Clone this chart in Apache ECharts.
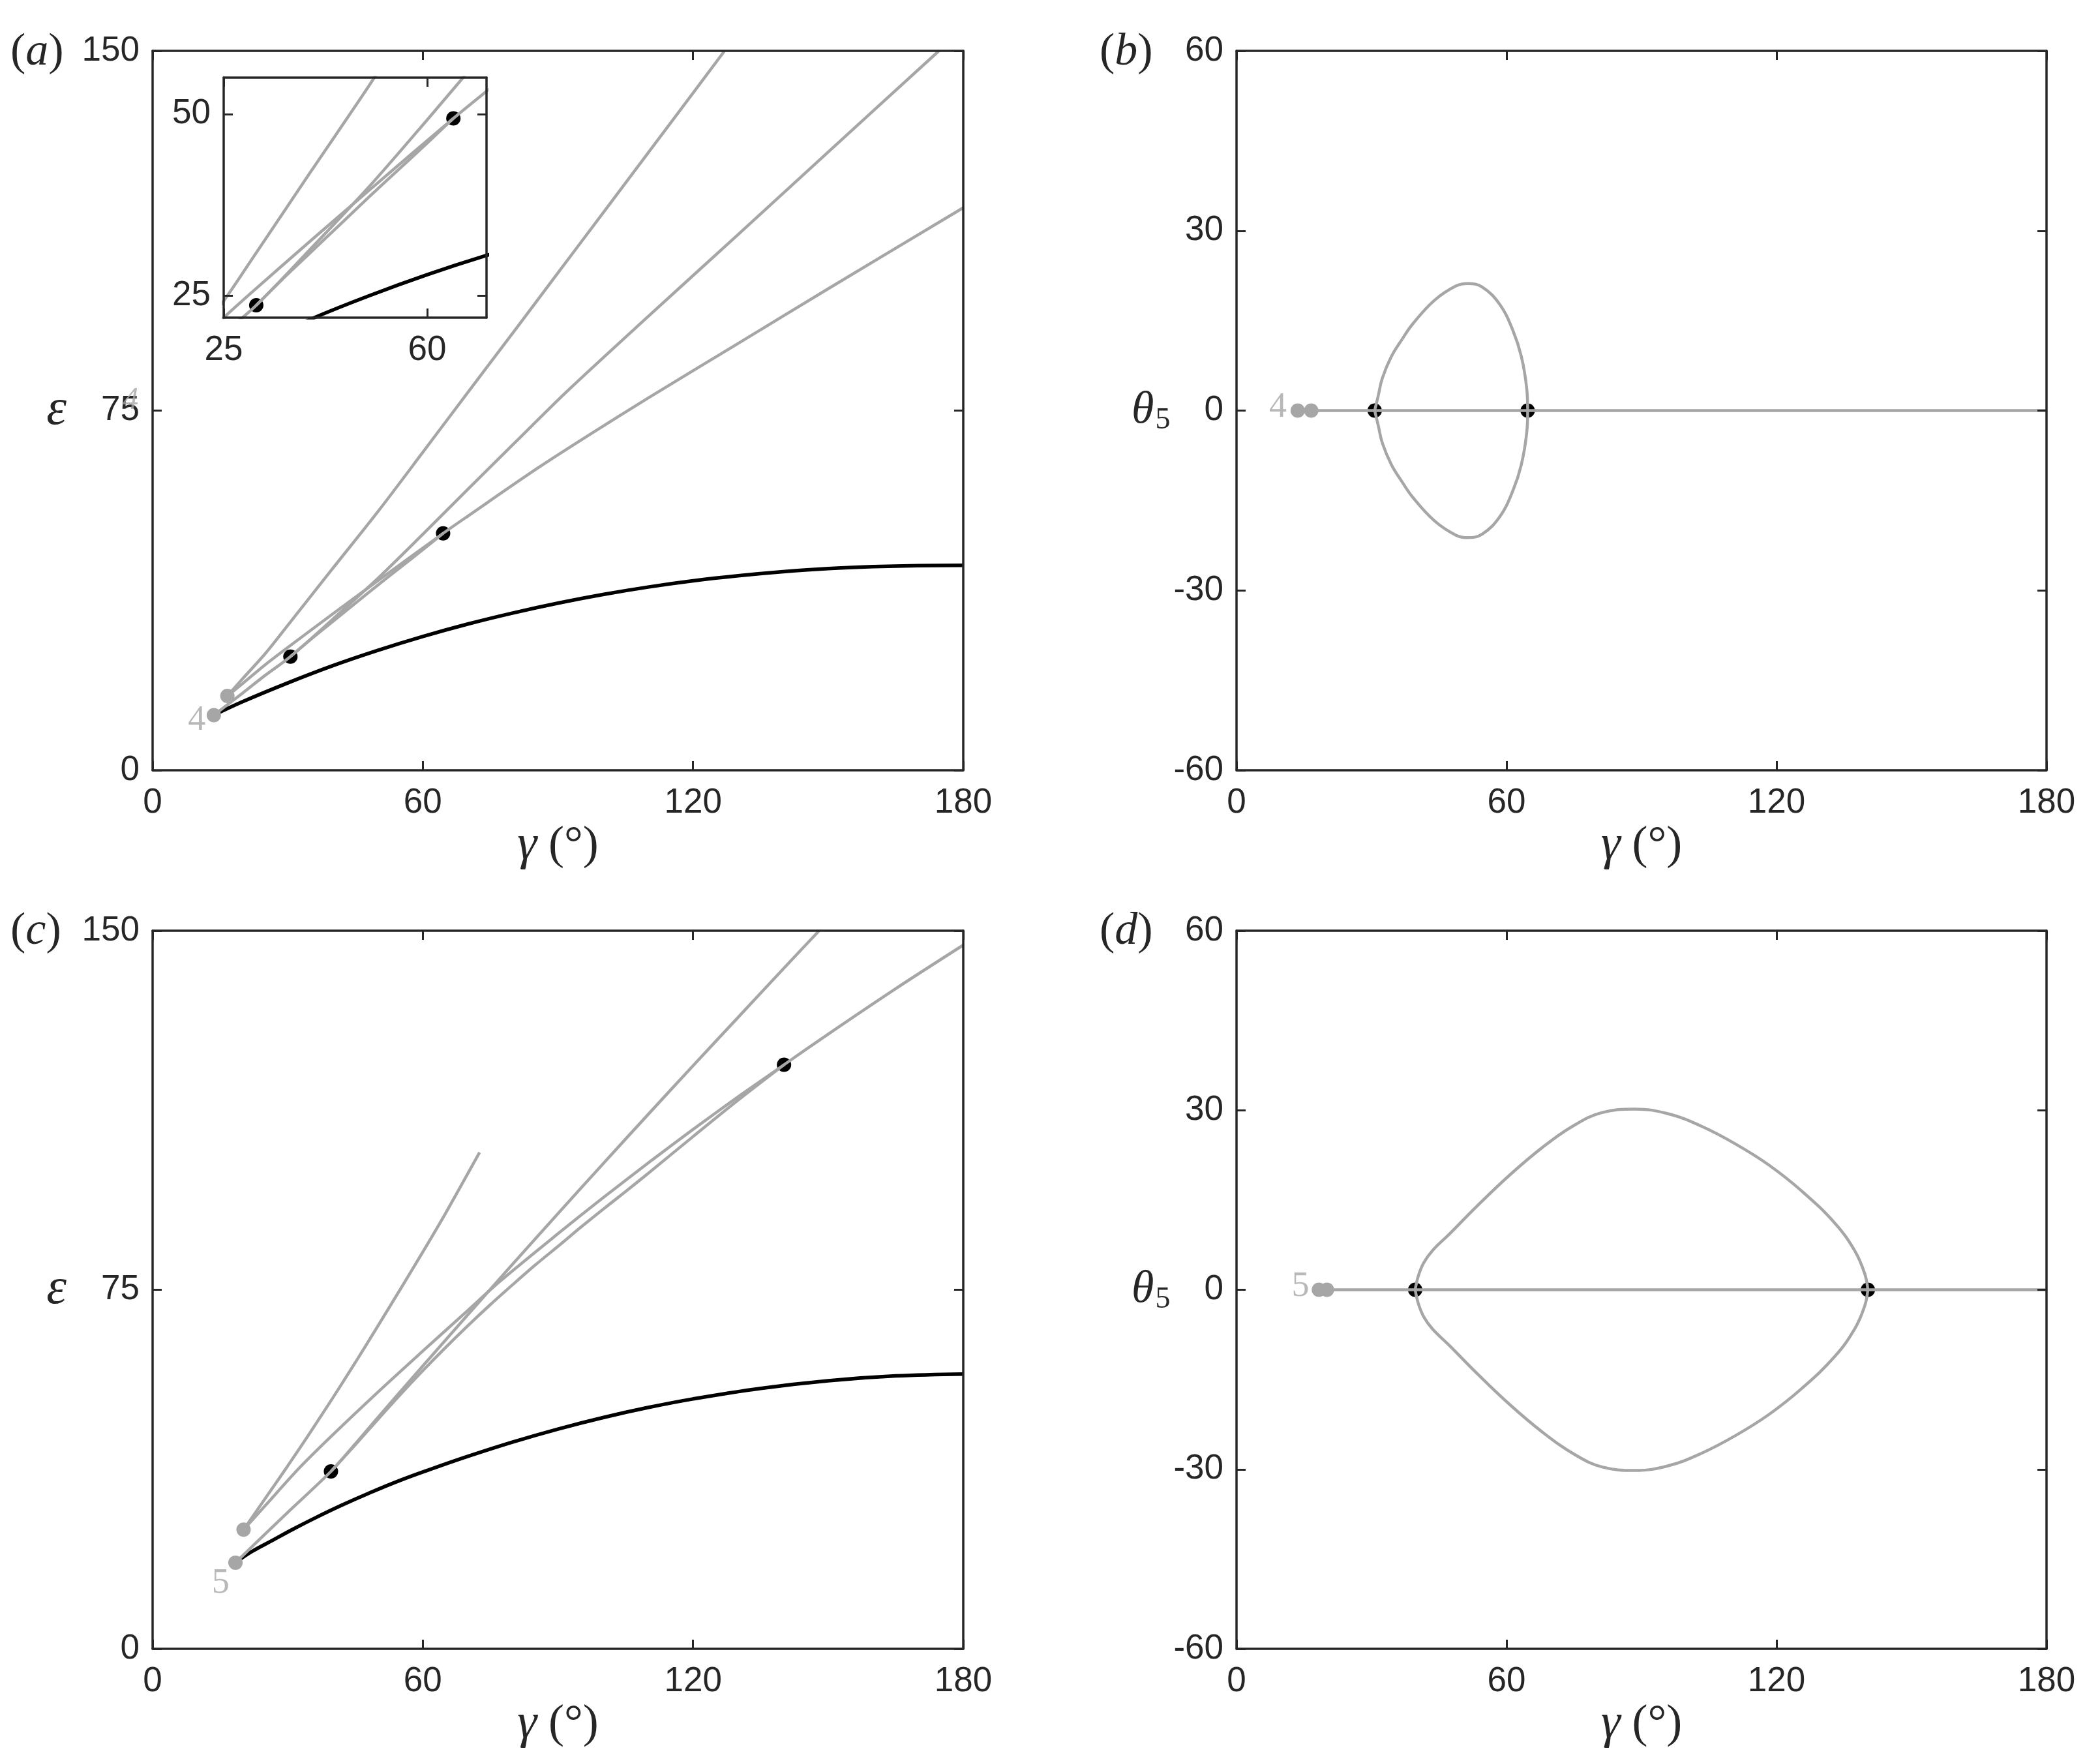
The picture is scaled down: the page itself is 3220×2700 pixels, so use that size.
<!DOCTYPE html>
<html>
<head>
<meta charset="utf-8">
<script src="https://cdn.jsdelivr.net/npm/echarts@6/dist/echarts.min.js"></script>
<style>
  html, body { margin: 0; padding: 0; background: #fff; }
  #chart { width: 3220px; height: 2700px; }
</style>
</head>
<body>
<div id="chart"></div>
<script>
// ---- data ----
var gammaTicks = [0, 60, 120, 180];
var epsTicks = [0, 75, 150];
var thetaTicks = [-60, -30, 0, 30, 60];
var insetGammaTicks = [25, 60];
var insetEpsTicks = [25, 50];
var insetGammaRange = [25, 70.2];
var insetEpsRange = [22, 55];

// panel (a)
var aBlackX = [13.6, 20, 30, 40, 50, 60, 70, 80, 90, 100, 110, 120, 130, 140, 150, 160, 170, 180];
var aBlackY = [11.5, 14.3, 18.2, 21.8, 25.0, 27.9, 30.5, 32.8, 34.85, 36.65, 38.2, 39.5, 40.55, 41.4, 42.05, 42.45, 42.68, 42.75];
var aSteepX = [16.6, 20, 25, 30, 40, 50, 60, 70, 80, 90, 100, 110, 120, 127];
var aSteepY = [15.5, 19.1, 24.3, 30.2, 42.1, 53.9, 66.3, 78.8, 91.2, 103.7, 116.2, 128.7, 141.2, 150];
var aUpperX = [13.6, 20, 25, 30.6, 40, 50, 60, 70, 80, 92, 110, 130, 150, 174.6];
var aUpperY = [11.5, 16.1, 19.8, 23.7, 31.5, 40.0, 49.2, 58.6, 67.9, 79.0, 94.6, 111.7, 128.9, 150];
var aLowerX = [16.6, 20, 25, 30, 40, 50, 64.5, 70, 85.5, 96.4, 110, 130, 150, 180];
var aLowerY = [15.5, 18.1, 22.0, 25.6, 32.6, 39.5, 49.4, 53.0, 63.0, 69.6, 77.6, 89.0, 100.4, 117.3];
var aLoopX = [30.6, 35, 40, 45, 50, 55, 60, 64.5];
var aLoopY = [23.7, 27.2, 31.0, 34.8, 38.6, 42.3, 46.0, 49.4];
var aBlackDotX = [30.6, 64.5];
var aBlackDotY = [23.7, 49.4];
var aGrayDotX = [13.6, 16.6];
var aGrayDotY = [11.5, 15.5];

// panel (b)
var bAxisX = [13.6, 180];
var bAxisY = [0, 0];
var bLoopX = [30.7, 31.5, 32.4, 34.4, 36.8, 39.2, 44.0, 48.8, 51.4, 54.6, 58.5, 61.4, 63.3, 64.5, 64.7];
var bLoopUpY = [0, 2.5, 5.4, 9.0, 11.9, 14.5, 18.4, 20.8, 21.2, 20.6, 17.7, 13.4, 9.0, 3.6, 0];
var bLoopDownY = [0, -2.5, -5.4, -9.0, -11.9, -14.5, -18.4, -20.8, -21.2, -20.6, -17.7, -13.4, -9.0, -3.6, 0];
var bBlackDotX = [30.7, 64.7];
var bBlackDotY = [0, 0];
var bGrayDotX = [13.6, 16.6];
var bGrayDotY = [0, 0];

// panel (c)
var cBlackX = [18.4, 22, 26.5, 31, 36, 42, 48, 55, 62, 70, 80, 90, 100, 110, 120, 135, 150, 165, 180];
var cBlackY = [18.0, 20.3, 22.6, 24.9, 27.3, 30.0, 32.5, 35.2, 37.6, 40.2, 43.2, 45.9, 48.3, 50.4, 52.2, 54.4, 56.0, 57.0, 57.4];
var cShortX = [20.2, 25, 30, 35, 40, 45, 50, 55, 60, 65, 72.6];
var cShortY = [24.9, 31.4, 38.2, 45.2, 52.4, 59.8, 67.4, 75.1, 82.9, 90.9, 103.7];
var cLowerX = [20.2, 25, 32.7, 40, 50, 60, 70, 76.8, 90, 100, 110.9, 120, 130, 140.2, 150, 165, 180];
var cLowerY = [24.9, 29.9, 37.9, 44.7, 53.6, 62.2, 70.7, 76.5, 86.7, 94.2, 102.1, 108.5, 115.3, 122.0, 128.4, 137.9, 147.0];
var cUpperX = [18.4, 25, 30, 39.6, 45, 50, 58.8, 70, 80, 90, 100, 110, 120, 130, 140, 148];
var cUpperY = [18.0, 24.0, 28.5, 37.06, 42.8, 48.3, 57.8, 69.8, 80.4, 90.9, 101.3, 111.6, 121.8, 131.9, 142.0, 150];
var cLoopX = [39.6, 45, 50, 55, 60, 65, 70, 75, 80, 85, 90.7, 95, 100, 105, 110, 120, 130, 140.2];
var cLoopY = [37.06, 42.6, 47.9, 53.1, 58.1, 62.9, 67.5, 71.9, 76.1, 80.2, 84.6, 88.0, 91.8, 95.5, 99.3, 107.0, 114.6, 122.0];
var cBlackDotX = [39.6, 140.2];
var cBlackDotY = [37.06, 122.0];
var cGrayDotX = [18.4, 20.2];
var cGrayDotY = [18.0, 24.9];

// panel (d)
var dAxisX = [18.3, 180];
var dAxisY = [0, 0];
var dLoopX = [39.7, 40.4, 41.6, 43.6, 47.3, 53.2, 60.6, 68.0, 75.3, 81.2, 88.5, 96.0, 103.4, 110.8, 118.2, 125.6, 133.0, 137.4, 139.6, 140.3];
var dLoopUpY = [0, 2.3, 4.5, 6.6, 9.3, 13.8, 19.1, 23.8, 27.6, 29.6, 30.2, 29.4, 27.3, 24.4, 20.9, 16.5, 11.1, 6.5, 2.7, 0];
var dLoopDownY = [0, -2.3, -4.5, -6.6, -9.3, -13.8, -19.1, -23.8, -27.6, -29.6, -30.2, -29.4, -27.3, -24.4, -20.9, -16.5, -11.1, -6.5, -2.7, 0];
var dBlackDotX = [39.7, 140.3];
var dBlackDotY = [0, 0];
var dGrayDotX = [18.3, 20.1];
var dGrayDotY = [0, 0];

// small grey branch numbers
var tagPanel = [0, 0, 1, 2, 3];
var tagText = ['4', '4', '4', '5', '5'];
var tagX = [9.8, -4.9, 9.2, 15.1, 14.2];
var tagY = [10.3, 77.1, 0.5, 13.6, 0.5];

// ---- styling ----
var GRAY = '#a6a6a6';
var BLACK = '#000000';
var AXIS = '#262626';
var SANS = 'Liberation Sans';
var SERIF = 'Liberation Serif';

var chart = echarts.init(document.getElementById('chart'), null, { renderer: 'canvas' });

var grids = [
  { left: 234, top: 78, width: 1243, height: 1103 },
  { left: 1896, top: 78, width: 1242, height: 1103 },
  { left: 234, top: 1427, width: 1243, height: 1101 },
  { left: 1896, top: 1427, width: 1242, height: 1101 },
  { left: 343, top: 119, width: 403, height: 368, z: 10, show: true, backgroundColor: '#fff', borderWidth: 0 }
];

var nameRich = {
  g: { fontFamily: SERIF, fontStyle: 'italic', fontSize: 76, color: AXIS },
  e: { fontFamily: SERIF, fontStyle: 'italic', fontSize: 78, color: AXIS },
  t: { fontFamily: SERIF, fontStyle: 'italic', fontSize: 70, color: AXIS },
  s: { fontFamily: SERIF, fontSize: 46, color: AXIS, verticalAlign: 'bottom', padding: [30, 0, 0, 2] }
};

var xAxes = [];
var yAxes = [];

function makeAxis(pos, gi, range, ticks, interval, showLabel, z) {
  var isX = pos === 'bottom' || pos === 'top';
  var ax = {
    type: 'value',
    gridIndex: gi,
    position: pos,
    min: range[0],
    max: range[1],
    z: z,
    axisLine: { show: true, onZero: false, lineStyle: { color: AXIS, width: 3.5 } },
    axisTick: { show: true, inside: true, length: 14, customValues: ticks, lineStyle: { color: AXIS, width: 3 } },
    axisLabel: { show: showLabel, customValues: ticks, margin: isX ? 24 : 20, color: AXIS, fontSize: 53, fontFamily: SANS },
    splitLine: { show: false }
  };
  if (interval) ax.interval = interval;
  return ax;
}

function addPanel(gi, xr, xt, xi, yr, yt, yi, yName, yGap, z) {
  var xb = makeAxis('bottom', gi, xr, xt, xi, true, z);
  var xtop = makeAxis('top', gi, xr, xt, xi, false, z);
  var yl = makeAxis('left', gi, yr, yt, yi, true, z);
  var yr2 = makeAxis('right', gi, yr, yt, yi, false, z);
  if (gi < 4) {
    xb.name = '{g|γ} (°)';
    xb.nameLocation = 'middle';
    xb.nameGap = 70;
    xb.nameTextStyle = { fontFamily: SERIF, fontSize: 72, color: AXIS, rich: nameRich };
    yl.name = yName;
    yl.nameLocation = 'middle';
    yl.nameRotate = 0;
    yl.nameGap = yGap;
    yl.nameTextStyle = { fontFamily: SERIF, fontSize: 72, color: AXIS, rich: nameRich };
  }
  xAxes.push(xb, xtop);
  yAxes.push(yl, yr2);
}

addPanel(0, [0, 180], gammaTicks, 60, [0, 150], epsTicks, 75, '{e|ε}', 132, 6);
addPanel(1, [0, 180], gammaTicks, 60, [-60, 60], thetaTicks, 30, '{t|θ}{s|5}', 84, 6);
addPanel(2, [0, 180], gammaTicks, 60, [0, 150], epsTicks, 75, '{e|ε}', 132, 6);
addPanel(3, [0, 180], gammaTicks, 60, [-60, 60], thetaTicks, 30, '{t|θ}{s|5}', 84, 6);
addPanel(4, insetGammaRange, insetGammaTicks, 35, insetEpsRange, insetEpsTicks, null, '', 0, 15);

function zip(xs, ys) {
  return xs.map(function (x, i) { return [x, ys[i]]; });
}

function curve(gi, xs, ys, color, width, z, smooth) {
  return {
    type: 'line', xAxisIndex: 2 * gi, yAxisIndex: 2 * gi,
    data: zip(xs, ys), symbol: 'none', showSymbol: false, smooth: smooth || 0.3,
    lineStyle: { color: color, width: width }, z: z, silent: true
  };
}

function dots(gi, xs, ys, color, z) {
  return {
    type: 'scatter', xAxisIndex: 2 * gi, yAxisIndex: 2 * gi,
    data: zip(xs, ys), symbol: 'circle', symbolSize: 22,
    itemStyle: { color: color, opacity: 1 }, z: z, silent: true
  };
}

var series = [];
// (a) and its inset share the same curves
[0, 4].forEach(function (gi) {
  var base = gi === 4 ? 11 : 2;
  series.push(curve(gi, aBlackX, aBlackY, BLACK, 5.5, base, 0.4));
  series.push(dots(gi, aBlackDotX, aBlackDotY, BLACK, base + 1));
  series.push(curve(gi, aSteepX, aSteepY, GRAY, 4.5, base + 2));
  series.push(curve(gi, aUpperX, aUpperY, GRAY, 4.5, base + 2));
  series.push(curve(gi, aLowerX, aLowerY, GRAY, 4.5, base + 2));
  series.push(curve(gi, aLoopX, aLoopY, GRAY, 4.5, base + 2));
  series.push(dots(gi, aGrayDotX, aGrayDotY, GRAY, base + 3));
});

// (b)
series.push(dots(1, bBlackDotX, bBlackDotY, BLACK, 3));
series.push(curve(1, bAxisX, bAxisY, GRAY, 4.5, 4));
series.push(curve(1, bLoopX, bLoopUpY, GRAY, 4.5, 4, 0.4));
series.push(curve(1, bLoopX, bLoopDownY, GRAY, 4.5, 4, 0.4));
series.push(dots(1, bGrayDotX, bGrayDotY, GRAY, 5));

// (c)
series.push(curve(2, cBlackX, cBlackY, BLACK, 5.5, 2, 0.4));
series.push(dots(2, cBlackDotX, cBlackDotY, BLACK, 3));
series.push(curve(2, cShortX, cShortY, GRAY, 4.5, 4));
series.push(curve(2, cLowerX, cLowerY, GRAY, 4.5, 4));
series.push(curve(2, cUpperX, cUpperY, GRAY, 4.5, 4));
series.push(curve(2, cLoopX, cLoopY, GRAY, 4.5, 4));
series.push(dots(2, cGrayDotX, cGrayDotY, GRAY, 5));

// (d)
series.push(dots(3, dBlackDotX, dBlackDotY, BLACK, 3));
series.push(curve(3, dAxisX, dAxisY, GRAY, 4.5, 4));
series.push(curve(3, dLoopX, dLoopUpY, GRAY, 4.5, 4, 0.4));
series.push(curve(3, dLoopX, dLoopDownY, GRAY, 4.5, 4, 0.4));
series.push(dots(3, dGrayDotX, dGrayDotY, GRAY, 5));

// grey branch numbers
tagText.forEach(function (t, i) {
  var gi = tagPanel[i];
  series.push({
    type: 'scatter', xAxisIndex: 2 * gi, yAxisIndex: 2 * gi,
    data: [[tagX[i], tagY[i]]], symbol: 'circle', symbolSize: 1,
    itemStyle: { color: 'rgba(0,0,0,0)' }, clip: false, silent: true, z: 7,
    label: {
      show: true, position: 'inside', formatter: t, color: GRAY,
      fontFamily: SERIF, fontSize: tagX[i] < 0 ? 48 : 54,
      fontStyle: tagX[i] < 0 ? 'italic' : 'normal'
    }
  });
});

var panelLetters = ['a', 'b', 'c', 'd'];
var panelLeft = [16, 1686, 16, 1686];
var panelTop = [46, 46, 1394, 1394];

var option = {
  animation: false,
  backgroundColor: '#fff',
  textStyle: { fontFamily: SANS },
  grid: grids,
  xAxis: xAxes,
  yAxis: yAxes,
  series: series,
  graphic: panelLetters.map(function (l, i) {
    return {
      type: 'text', left: panelLeft[i], top: panelTop[i], z: 20,
      style: {
        text: '{p|(}{l|' + l + '}{p|)}',
        rich: {
          p: { fontFamily: SERIF, fontSize: 70, fill: AXIS },
          l: { fontFamily: SERIF, fontStyle: 'italic', fontSize: 70, fill: AXIS }
        }
      }
    };
  })
};

chart.setOption(option);
</script>
</body>
</html>
